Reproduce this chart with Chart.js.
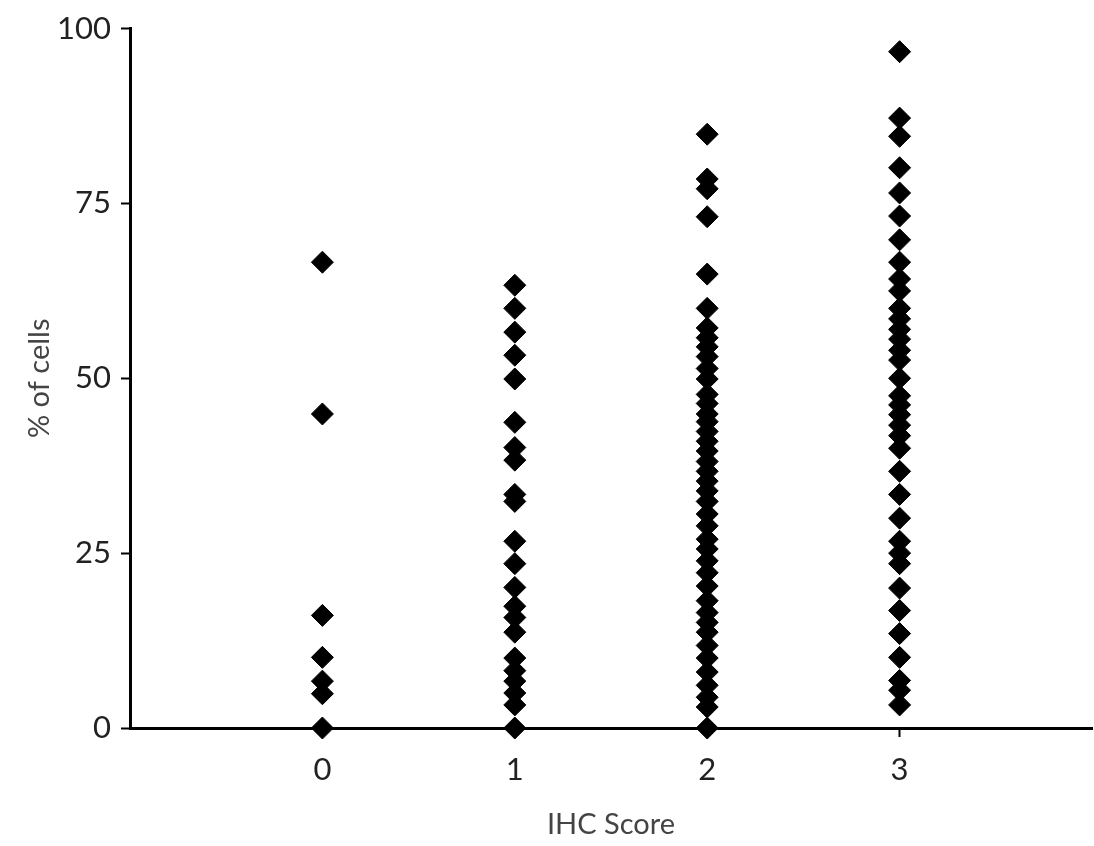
<!DOCTYPE html>
<html>
<head>
<meta charset="utf-8">
<script src="https://cdn.jsdelivr.net/npm/chart.js@4"></script>
<style>
  html, body { margin: 0; padding: 0; background: #fff; }
  #wrap { position: relative; width: 1094px; height: 846px; }
</style>
</head>
<body>
<div id="wrap"><canvas id="chart"></canvas></div>
<script>
// IHC score categories (x positions) and % of cells per category
const scores = [0, 1, 2, 3];
const yTicks = [0, 25, 50, 75, 100];

const score0 = [66.6, 44.9, 16.1, 10.1, 6.7, 4.9, 0];
const score1 = [63.3, 60.0, 56.6, 53.3, 49.9, 43.7, 40.1, 38.3, 33.4, 32.4, 26.7, 23.5, 20.1,
  17.4, 15.8, 13.7, 10.0, 8.2, 6.7, 5.0, 3.3, 0];
const score2 = [84.9, 78.5, 77.1, 73.1, 64.9, 60.0, 57.2, 55.8, 54.5, 53.1, 51.4, 49.9, 47.7,
  46.4, 44.9, 43.8, 42.4, 41.0, 39.6, 38.1, 36.7, 35.3, 33.9, 32.4, 30.6, 28.9, 27.0, 25.6,
  23.9, 22.2, 20.3, 18.2, 16.5, 15.1, 13.7, 11.8, 10.0, 8.0, 6.1, 4.4, 3.0, 0];
const score3 = [96.7, 87.2, 84.6, 80.1, 76.5, 73.2, 69.8, 66.6, 64.2, 62.5, 60.0, 58.5, 57.0,
  55.6, 54.0, 52.6, 50.0, 47.5, 46.2, 44.8, 43.3, 41.8, 40.0, 36.7, 33.4, 30.0, 26.7, 25.0,
  23.5, 20.0, 16.8, 13.5, 10.1, 6.8, 5.4, 3.3];

const groups = [score0, score1, score2, score3];

const points = [];
groups.forEach((vals, i) => {
  vals.forEach(v => points.push({ x: scores[i], y: v }));
});

const fontFamily = 'Lato, "Open Sans", sans-serif';

new Chart(document.getElementById('chart'), {
  type: 'scatter',
  data: {
    datasets: [{
      data: points,
      pointStyle: 'rectRot',
      pointRadius: 11,
      pointHoverRadius: 11,
      backgroundColor: '#000',
      borderColor: '#000',
      borderWidth: 1,
      clip: false
    }]
  },
  options: {
    responsive: true,
    maintainAspectRatio: false,
    animation: false,
    layout: { autoPadding: false, padding: { top: 23, right: 2, left: 0, bottom: 0 } },
    plugins: {
      legend: { display: false },
      tooltip: { enabled: false }
    },
    scales: {
      x: {
        type: 'linear',
        min: -1,
        max: 4,
        afterBuildTicks: scale => { scale.ticks = scores.map(v => ({ value: v })); },
        afterFit: scale => { scale.height = 118; },
        border: { display: true, color: '#000', width: 3 },
        grid: { display: true, drawOnChartArea: false, drawTicks: true, tickLength: 9, tickWidth: 2, tickColor: '#000' },
        ticks: {
          color: '#222',
          padding: 14,
          font: { family: fontFamily, size: 31 },
          callback: v => String(v)
        },
        title: {
          display: true,
          text: 'IHC Score',
          color: '#444',
          padding: { top: 8 },
          font: { family: fontFamily, size: 29 }
        }
      },
      y: {
        min: 0,
        max: 100,
        afterBuildTicks: scale => { scale.ticks = yTicks.map(v => ({ value: v })); },
        afterFit: scale => { scale.width = 130; },
        border: { display: true, color: '#000', width: 3 },
        grid: { display: true, drawOnChartArea: false, drawTicks: true, tickLength: 9, tickWidth: 2, tickColor: '#000' },
        ticks: {
          color: '#222',
          padding: 10,
          font: { family: fontFamily, size: 31 },
          callback: v => String(v)
        },
        title: {
          display: true,
          text: '% of cells',
          color: '#444',
          padding: { top: 22 },
          font: { family: fontFamily, size: 29 }
        }
      }
    }
  }
});
</script>
</body>
</html>
